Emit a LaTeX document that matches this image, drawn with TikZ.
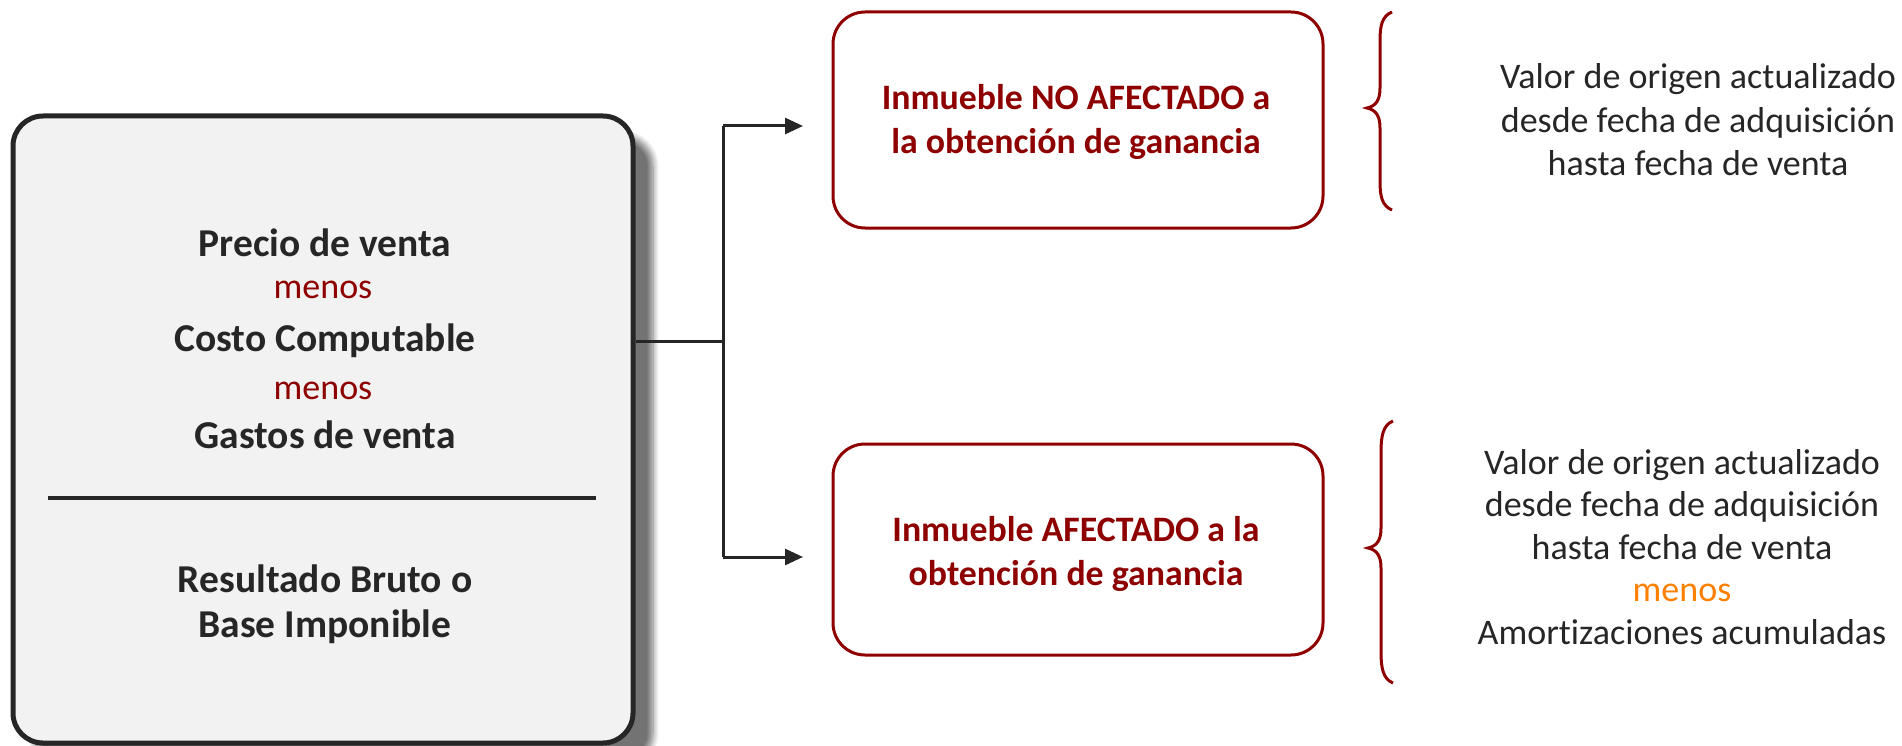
\documentclass[tikz,border=0pt]{standalone}
\usepackage{fontspec}
\setmainfont{Carlito}[Ligatures=NoCommon]
\usetikzlibrary{shadows.blur,arrows.meta}
\definecolor{dred}{HTML}{8E0000}
\definecolor{dtext}{HTML}{262626}
\definecolor{boxfill}{HTML}{F2F2F2}
\definecolor{orng}{HTML}{FF8000}
\begin{document}
\begin{tikzpicture}[x=1pt,y=-1pt,
  bigtxt/.style={font=\fontsize{36}{43.5}\selectfont, text=dtext, inner sep=0pt},
  bigbold/.style={font=\fontsize{39.5}{48}\selectfont\bfseries, text=dtext, inner sep=0pt},
  redmenos/.style={font=\fontsize{36}{43.5}\selectfont, text=dred, inner sep=0pt},
  leftbox/.style={draw=dtext, line width=5pt, fill=boxfill, rounded corners=30pt,
    blur shadow={shadow xshift=20pt, shadow yshift=-20pt, shadow opacity=55, shadow blur steps=8, shadow blur radius=6pt}},
  redbox/.style={draw=dred, line width=3pt, fill=white, rounded corners=32pt},
  boxtxt/.style={font=\fontsize{35.8}{44}\selectfont\bfseries, text=dred, align=center, inner sep=0pt},
  conn/.style={draw=dtext, line width=3pt},
  arr/.style={conn, -{Triangle[length=18pt,width=16pt]}},
  brace/.style={draw=dred, line width=3pt}
]
\useasboundingbox (0,0) rectangle (1902,746);
% left box
\node[leftbox, minimum width=620pt, minimum height=627pt] (L) at (323,429.5) {};
\node[bigbold] (t1) at (325,243) {Precio de venta};
\node[redmenos] (t2) at (323,290) {menos};
\node[bigbold] (t3) at (325,341) {Costo Computable};
\node[redmenos] (t4) at (323,391) {menos};
\node[bigbold] (t5) at (325,435) {Gastos de venta};
\coordinate (s1) at (48,498);
\coordinate (s2) at (596,498);
\draw[draw=dtext, line width=4pt] (s1) -- (s2);
\node[bigbold] (t6) at (325,579) {Resultado Bruto o};
\node[bigbold] (t7) at (325,627) {Base Imponible};
% right boxes
\node[redbox, minimum width=490pt, minimum height=216pt] (A) at (1078,120) {};
\node[boxtxt] (At) at (1076,122) {Inmueble NO AFECTADO a\\la obtención de ganancia};
\node[redbox, minimum width=490pt, minimum height=211pt] (B) at (1078,549.5) {};
\node[boxtxt] (Bt) at (1076,554) {Inmueble AFECTADO a la\\obtención de ganancia};
% connectors
\coordinate (c0) at (L.east |- 0,341);
\coordinate (j) at (723,341);
\coordinate (ja) at (723,126);
\coordinate (jb) at (723,557);
\coordinate (ea) at (803,126);
\coordinate (eb) at (803,557);
\draw[conn] (c0) -- (j);
\draw[conn] (ja) -- (jb);
\draw[arr] (ja) -- (ea);
\draw[arr] (jb) -- (eb);
% braces
\draw[brace] (1392,12) .. controls (1382,16) and (1380,26) .. (1380,40) -- (1380,88)
  .. controls (1380,100) and (1376,106) .. (1367,108)
  .. controls (1376,110) and (1380,116) .. (1380,128) -- (1380,182)
  .. controls (1380,196) and (1382,206) .. (1392,210);
\draw[brace] (1393,421) .. controls (1383,425) and (1381,436) .. (1381,452) -- (1381,528)
  .. controls (1381,540) and (1377,546) .. (1368,548)
  .. controls (1377,550) and (1381,556) .. (1381,568) -- (1381,652)
  .. controls (1381,668) and (1383,679) .. (1393,683);
% right texts
\node[bigtxt, align=center] (R1) at (1698,120) {Valor de origen actualizado\\desde fecha de adquisición\\hasta fecha de venta};
\node[bigtxt, align=center, font=\fontsize{36}{42.6}\selectfont] (R2) at (1682,547) {Valor de origen actualizado\\desde fecha de adquisición\\hasta fecha de venta\\\textcolor{orng}{menos}\\Amortizaciones acumuladas};
\end{tikzpicture}
\end{document}
